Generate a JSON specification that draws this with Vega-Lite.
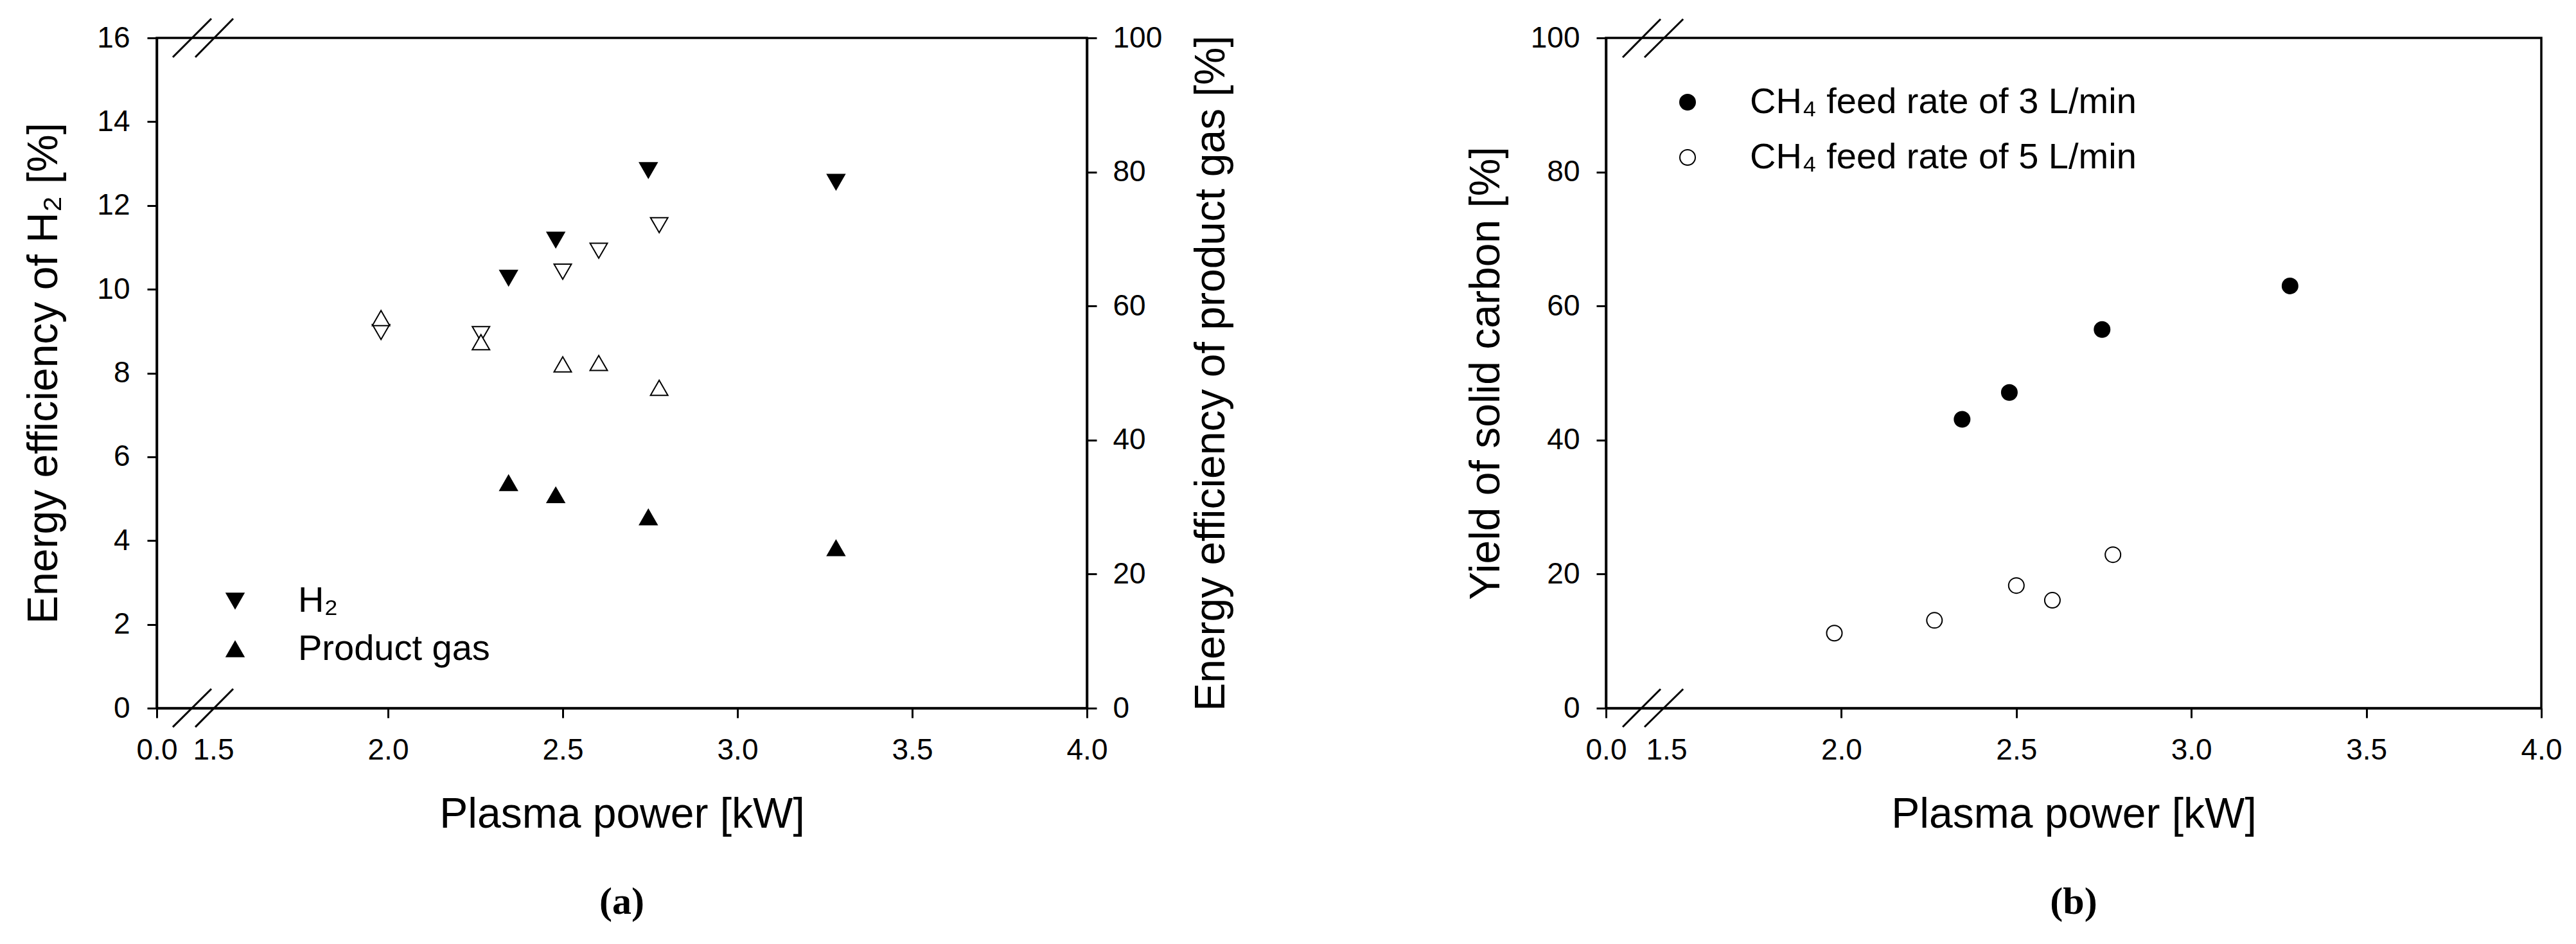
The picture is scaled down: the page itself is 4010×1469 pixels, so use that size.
{
  "$schema": "https://vega.github.io/schema/vega-lite/v6.json",
  "background": "white",
  "padding": {"left": 34, "top": 25, "right": 5, "bottom": 5},
  "spacing": 357,
  "resolve": {"scale": {"fill": "independent", "shape": "independent"}, "legend": {"fill": "independent", "shape": "independent"}},
  "datasets": {
    "effic": [
      {"power": 2.345, "value": 10.27, "series": "H₂", "feed": "3"},
      {"power": 2.48, "value": 11.18, "series": "H₂", "feed": "3"},
      {"power": 2.745, "value": 12.84, "series": "H₂", "feed": "3"},
      {"power": 3.282, "value": 12.56, "series": "H₂", "feed": "3"},
      {"power": 1.98, "value": 8.98, "series": "H₂", "feed": "5"},
      {"power": 2.266, "value": 8.93, "series": "H₂", "feed": "5"},
      {"power": 2.5, "value": 10.42, "series": "H₂", "feed": "5"},
      {"power": 2.603, "value": 10.92, "series": "H₂", "feed": "5"},
      {"power": 2.776, "value": 11.53, "series": "H₂", "feed": "5"},
      {"power": 2.345, "value": 33.6, "series": "Product gas", "feed": "3"},
      {"power": 2.48, "value": 31.8, "series": "Product gas", "feed": "3"},
      {"power": 2.745, "value": 28.5, "series": "Product gas", "feed": "3"},
      {"power": 3.282, "value": 23.9, "series": "Product gas", "feed": "3"},
      {"power": 1.98, "value": 58.2, "series": "Product gas", "feed": "5"},
      {"power": 2.266, "value": 54.6, "series": "Product gas", "feed": "5"},
      {"power": 2.5, "value": 51.3, "series": "Product gas", "feed": "5"},
      {"power": 2.603, "value": 51.5, "series": "Product gas", "feed": "5"},
      {"power": 2.776, "value": 47.8, "series": "Product gas", "feed": "5"}
    ],
    "carbon": [
      {"power": 2.345, "yield": 43.1, "feed": "CH₄ feed rate of 3 L/min"},
      {"power": 2.48, "yield": 47.1, "feed": "CH₄ feed rate of 3 L/min"},
      {"power": 2.745, "yield": 56.5, "feed": "CH₄ feed rate of 3 L/min"},
      {"power": 3.282, "yield": 63.0, "feed": "CH₄ feed rate of 3 L/min"},
      {"power": 1.98, "yield": 11.2, "feed": "CH₄ feed rate of 5 L/min"},
      {"power": 2.266, "yield": 13.1, "feed": "CH₄ feed rate of 5 L/min"},
      {"power": 2.5, "yield": 18.3, "feed": "CH₄ feed rate of 5 L/min"},
      {"power": 2.603, "yield": 16.1, "feed": "CH₄ feed rate of 5 L/min"},
      {"power": 2.776, "yield": 22.9, "feed": "CH₄ feed rate of 5 L/min"}
    ],
    "breaksA": [
      {"x1": 0.426, "y1": -0.45, "x2": 1.449, "y2": 0.46},
      {"x1": 1.023, "y1": -0.45, "x2": 1.557, "y2": 0.46},
      {"x1": 0.426, "y1": 15.54, "x2": 1.449, "y2": 16.46},
      {"x1": 1.023, "y1": 15.54, "x2": 1.557, "y2": 16.46}
    ],
    "breaksB": [
      {"x1": 0.415, "y1": -2.8, "x2": 1.356, "y2": 2.85},
      {"x1": 0.957, "y1": -2.8, "x2": 1.548, "y2": 2.85},
      {"x1": 0.415, "y1": 97.1, "x2": 1.356, "y2": 102.8},
      {"x1": 0.957, "y1": 97.1, "x2": 1.548, "y2": 102.8}
    ]
  },
  "hconcat": [
    {
      "width": 1448,
      "height": 1043,
      "title": {"text": "(a)", "orient": "bottom"},
      "layer": [
        {
          "layer": [
            {
              "data": {"name": "effic"},
              "transform": [{"filter": "datum.series === 'H₂'"}],
              "mark": {"type": "point", "filled": true, "size": 729, "stroke": "black", "strokeWidth": 2, "opacity": 1},
              "encoding": {
                "x": {"field": "power", "type": "quantitative",
                  "scale": {"domain": [0, 1.5, 4], "range": [0, 88, 1448], "nice": false, "zero": false},
                  "axis": {"title": "Plasma power [kW]", "values": [0, 1.5, 2, 2.5, 3, 3.5, 4], "format": ".1f", "labelPadding": 28, "titlePadding": 45,
                    "tickOpacity": {"condition": {"test": "datum.value === 1.5", "value": 0}, "value": 1}}},
                "y": {"field": "value", "type": "quantitative",
                  "scale": {"domain": [0, 16], "nice": false, "zero": false},
                  "axis": {"title": "Energy efficiency of H₂ [%]", "values": [0, 2, 4, 6, 8, 10, 12, 14, 16], "format": "d", "labelPadding": 27, "titlePadding": 48}},
                "shape": {"field": "series", "type": "nominal",
                  "scale": {"domain": ["H₂", "Product gas"], "range": ["triangle-down", "triangle-up"]},
                  "legend": {"title": null, "orient": "none", "legendX": 94, "legendY": 848, "padding": 0, "rowPadding": 19, "labelOffset": 70, "symbolSize": 729, "labelFontSize": 56, "labelLimit": 1000,
                    "symbolFillColor": "black", "symbolStrokeColor": "black", "symbolStrokeWidth": 2,
                    "encode": {"symbols": {"update": {"fill": {"value": "black"}, "stroke": {"value": "black"}}}}}},
                "fill": {"field": "feed", "type": "nominal", "scale": {"domain": ["3", "5"], "range": ["black", "white"]}, "legend": null}
              }
            },
            {
              "data": {"name": "breaksA"},
              "mark": {"type": "rule", "color": "black", "strokeWidth": 3},
              "encoding": {
                "x": {"field": "x1", "type": "quantitative", "scale": {"domain": [0, 1.5, 4], "range": [0, 88, 1448], "nice": false, "zero": false}, "title": "Plasma power [kW]"},
                "x2": {"field": "x2"},
                "y": {"field": "y1", "type": "quantitative", "scale": {"domain": [0, 16], "nice": false, "zero": false}, "title": "Energy efficiency of H₂ [%]"},
                "y2": {"field": "y2"}
              }
            }
          ]
        },
        {
          "data": {"name": "effic"},
          "transform": [{"filter": "datum.series === 'Product gas'"}],
          "mark": {"type": "point", "filled": true, "size": 729, "stroke": "black", "strokeWidth": 2, "opacity": 1},
          "encoding": {
            "x": {"field": "power", "type": "quantitative",
              "scale": {"domain": [0, 1.5, 4], "range": [0, 88, 1448], "nice": false, "zero": false}, "title": "Plasma power [kW]"},
            "y": {"field": "value", "type": "quantitative",
              "scale": {"domain": [0, 100], "nice": false, "zero": false},
              "axis": {"orient": "right", "title": "Energy efficiency of product gas [%]", "values": [0, 20, 40, 60, 80, 100], "format": "d", "labelPadding": 25, "titlePadding": 45, "titleAngle": 270, "titleBaseline": "top"}},
            "shape": {"field": "series", "type": "nominal",
              "scale": {"domain": ["H₂", "Product gas"], "range": ["triangle-down", "triangle-up"]}},
            "fill": {"field": "feed", "type": "nominal", "scale": {"domain": ["3", "5"], "range": ["black", "white"]}, "legend": null}
          }
        }
      ],
      "resolve": {"scale": {"y": "independent"}, "axis": {"y": "independent"}}
    },
    {
      "width": 1456,
      "height": 1043,
      "title": {"text": "(b)", "orient": "bottom"},
      "layer": [
        {
          "data": {"name": "carbon"},
          "mark": {"type": "point", "shape": "circle", "filled": true, "size": 576, "stroke": "black", "strokeWidth": 2, "opacity": 1},
          "encoding": {
            "x": {"field": "power", "type": "quantitative",
              "scale": {"domain": [0, 1.5, 4], "range": [0, 94, 1456], "nice": false, "zero": false},
              "axis": {"title": "Plasma power [kW]", "values": [0, 1.5, 2, 2.5, 3, 3.5, 4], "format": ".1f", "labelPadding": 28, "titlePadding": 45,
                "tickOpacity": {"condition": {"test": "datum.value === 1.5", "value": 0}, "value": 1}}},
            "y": {"field": "yield", "type": "quantitative",
              "scale": {"domain": [0, 100], "nice": false, "zero": false},
              "axis": {"title": "Yield of solid carbon [%]", "values": [0, 20, 40, 60, 80, 100], "format": "d", "labelPadding": 26, "titlePadding": 35}},
            "fill": {"field": "feed", "type": "nominal",
              "scale": {"domain": ["CH₄ feed rate of 3 L/min", "CH₄ feed rate of 5 L/min"], "range": ["black", "white"]},
              "legend": {"title": null, "orient": "none", "legendX": 99, "legendY": 72, "padding": 0, "rowPadding": 30, "labelOffset": 69, "symbolSize": 576, "symbolType": "circle", "labelFontSize": 56, "labelLimit": 1200,
                "symbolStrokeColor": "black", "symbolStrokeWidth": 2}}
          }
        },
        {
          "data": {"name": "breaksB"},
          "mark": {"type": "rule", "color": "black", "strokeWidth": 3},
          "encoding": {
            "x": {"field": "x1", "type": "quantitative", "scale": {"domain": [0, 1.5, 4], "range": [0, 94, 1456], "nice": false, "zero": false}, "title": "Plasma power [kW]"},
            "x2": {"field": "x2"},
            "y": {"field": "y1", "type": "quantitative", "scale": {"domain": [0, 100], "nice": false, "zero": false}, "title": "Yield of solid carbon [%]"},
            "y2": {"field": "y2"}
          }
        }
      ]
    }
  ],
  "config": {
    "view": {"stroke": "black", "strokeWidth": 3.5},
    "axis": {
      "domainColor": "black", "domainWidth": 3.5, "tickColor": "black", "tickWidth": 3, "tickSize": 15,
      "labelFont": "Liberation Sans", "labelFontSize": 46, "labelColor": "black", "labelFlush": false, "labelOverlap": false,
      "titleFont": "Liberation Sans", "titleFontSize": 66, "titleFontWeight": "normal", "titleColor": "black", "grid": false
    },
    "legend": {"labelFont": "Liberation Sans", "labelColor": "black"},
    "title": {"font": "Liberation Serif", "fontSize": 60, "fontWeight": "bold", "color": "black", "offset": 75}
  }
}
